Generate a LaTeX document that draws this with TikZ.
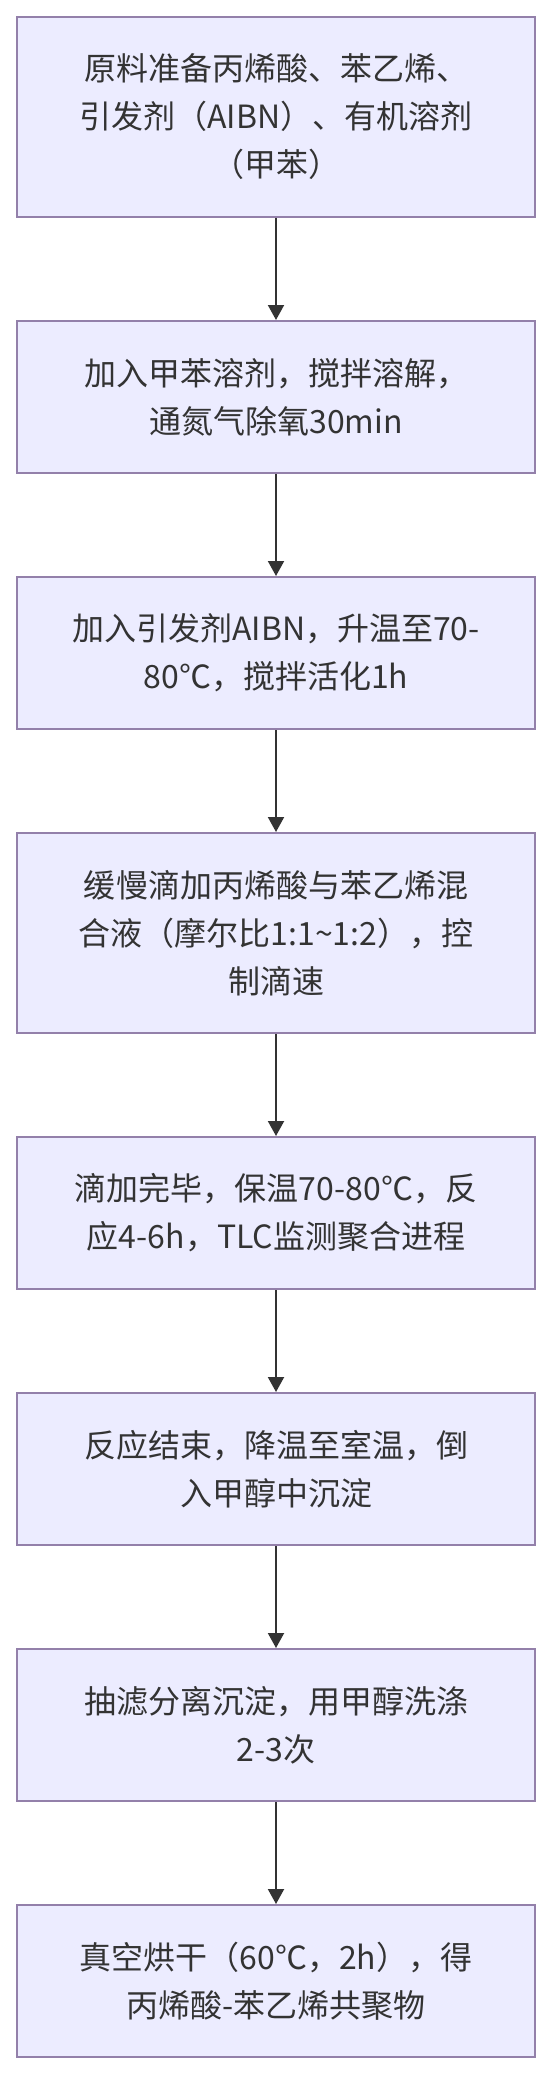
\documentclass[tikz,border=0pt]{standalone}
\usepackage{fontspec}
\newfontfamily\cjk{Noto Sans CJK SC}
\usetikzlibrary{arrows.meta,positioning}
\definecolor{boxfill}{HTML}{ECECFF}
\definecolor{boxline}{RGB}{147,128,170}
\definecolor{ink}{HTML}{333333}

\begin{document}
\begin{tikzpicture}[
  font=\cjk\fontsize{16pt}{24pt}\selectfont,
  stepbox/.style={rectangle, draw=boxline, fill=boxfill, line width=1pt,
                  minimum width=259pt, minimum height=76pt, inner sep=0pt,
                  align=center, text=ink},
  tallbox/.style={stepbox, minimum height=100pt},
  flow/.style={-{Triangle[length=7.5pt, width=8pt]}, line width=1pt, draw=ink},
  node distance=51pt,
]

% page frame: 552 x 2076 px at 0.5pt per px
\useasboundingbox (0,0) rectangle (276pt,-1038pt);

% one column of steps, top to bottom
\node[tallbox] (prep) at (138pt,-58.5pt)
  {原料准备丙烯酸、苯乙烯、\\引发剂（AIBN）、有机溶剂\\（甲苯）};
\node[stepbox, below=of prep] (dissolve)
  {加入甲苯溶剂，搅拌溶解，\\通氮气除氧30min};
\node[stepbox, below=of dissolve] (activate)
  {加入引发剂AIBN，升温至70-\\80℃，搅拌活化1h};
\node[tallbox, below=of activate] (drip)
  {缓慢滴加丙烯酸与苯乙烯混\\合液（摩尔比1:1\textasciitilde 1:2），控\\制滴速};
\node[stepbox, below=of drip] (react)
  {滴加完毕，保温70-80℃，反\\应4-6h，TLC监测聚合进程};
\node[stepbox, below=of react] (settle)
  {反应结束，降温至室温，倒\\入甲醇中沉淀};
\node[stepbox, below=of settle] (wash)
  {抽滤分离沉淀，用甲醇洗涤\\2-3次};
\node[stepbox, below=of wash] (dry)
  {真空烘干（60℃，2h），得\\丙烯酸-苯乙烯共聚物};

% connectors
\foreach \a/\b in {prep/dissolve, dissolve/activate, activate/drip,
                   drip/react, react/settle, settle/wash, wash/dry}
  \draw[flow] (\a) -- (\b);

\end{tikzpicture}
\end{document}
